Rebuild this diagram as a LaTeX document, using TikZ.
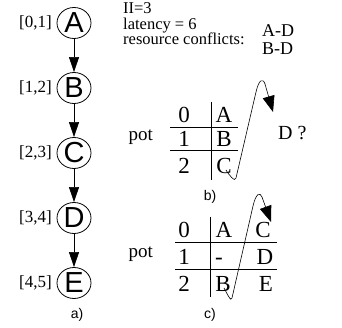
\documentclass[tikz,border=0pt]{standalone}
\usepackage{fontspec}
\setmainfont{Liberation Serif}
\newfontfamily\helv{Liberation Sans}
\usetikzlibrary{arrows.meta,shapes.geometric}
\tikzset{
  opnode/.style={draw, thick, ellipse, inner sep=0pt, minimum width=34pt, minimum height=31pt,
                 font=\helv\fontsize{29}{29}\selectfont},
  oplbl/.style={anchor=east, inner sep=0pt, font=\fontsize{17}{17}\selectfont},
  deparr/.style={-{Triangle[length=15pt,width=10pt]}, semithick},
  infotxt/.style={anchor=base west, inner sep=0pt, font=\fontsize{16.5}{16.5}\selectfont},
  cell/.style={anchor=base, inner sep=0pt, font=\fontsize{23}{23}\selectfont},
  potlbl/.style={anchor=base east, inner sep=0pt, font=\fontsize{19}{19}\selectfont},
  caplbl/.style={inner sep=0pt, font=\helv\fontsize{14}{14}\selectfont},
  tline/.style={semithick},
  movearr/.style={-{Triangle[length=16pt,width=12pt]}, semithick},
}
\begin{document}
\begin{tikzpicture}[x=1pt,y=-1pt]
  \useasboundingbox (0,0) rectangle (342,328);

  \foreach \n/\y/\t in {A/23/{[0,1]},B/88/{[1,2]},C/153/{[2,3]},D/218/{[3,4]},E/283/{[4,5]}}{
    \node[opnode] (\n) at (74,\y) {\n};
    \node[oplbl] (t\n) at (52,\y) {\t};
  }
  \foreach \a/\b in {A/B,B/C,C/D,D/E}
    \draw[deparr] (\a) -- (\b);
  \node[caplbl] (capa) at (77,315) {a)};

  \node[infotxt] (ii) at (123,14) {II=3};
  \node[infotxt] (lat) at (123,29.5) {latency = 6};
  \node[infotxt] (res) at (123,45) {resource conflicts:};
  \node[infotxt, font=\fontsize{18}{18}\selectfont] (cad) at (262,37) {A-D};
  \node[infotxt, font=\fontsize{18}{18}\selectfont] (cbd) at (262,55) {B-D};

  % b)
  \node[potlbl] (potb) at (153,141) {pot};
  \draw[tline] (170,127) -- (238,127) (170,150) -- (238,150) (211,102) -- (211,180);
  \node[cell] (b0) at (184,123) {0};
  \node[cell] (b1) at (184,147) {1};
  \node[cell] (b2) at (184,174) {2};
  \node[cell] (bA) at (224,123) {A};
  \node[cell] (bB) at (224,147) {B};
  \node[cell] (bC) at (224,174) {C};
  \node[cell, anchor=base west, font=\fontsize{20}{20}\selectfont] (dq) at (278,140) {D ?};
  \coordinate (bs) at (226,170);
  \coordinate (bk) at (265,84);
  \coordinate (bt) at (273,112);
  \draw[semithick] (bs) to[out=-60,in=-100] (236,178) -- (256,92)
    .. controls (259,79) and (263,78) .. (bk);
  \draw[movearr] (bk) -- (bt);
  \node[caplbl] (capb) at (210,197) {b)};

  % c)
  \node[potlbl] (potc) at (153,258) {pot};
  \draw[tline] (175,242) -- (277,242) (175,269) -- (277,269) (210,217) -- (210,297);
  \node[cell] (c0) at (184,238) {0};
  \node[cell] (c1) at (184,264) {1};
  \node[cell] (c2) at (184,291) {2};
  \node[cell] (cA) at (224,238) {A};
  \node[cell] (cm) at (219,264) {-};
  \node[cell] (cB) at (223,291) {B};
  \node[cell] (cC) at (263,238) {C};
  \node[cell] (cD) at (265,264) {D};
  \node[cell] (cE) at (266,291) {E};
  \coordinate (cs) at (224,288);
  \coordinate (ck) at (262,197);
  \coordinate (ct) at (271,222);
  \draw[semithick] (cs) to[out=-60,in=-100] (232,298) -- (253,206)
    .. controls (256,193) and (260,192) .. (ck);
  \draw[movearr] (ck) -- (ct);
  \node[caplbl] (capc) at (210,315) {c)};
\end{tikzpicture}
\end{document}
